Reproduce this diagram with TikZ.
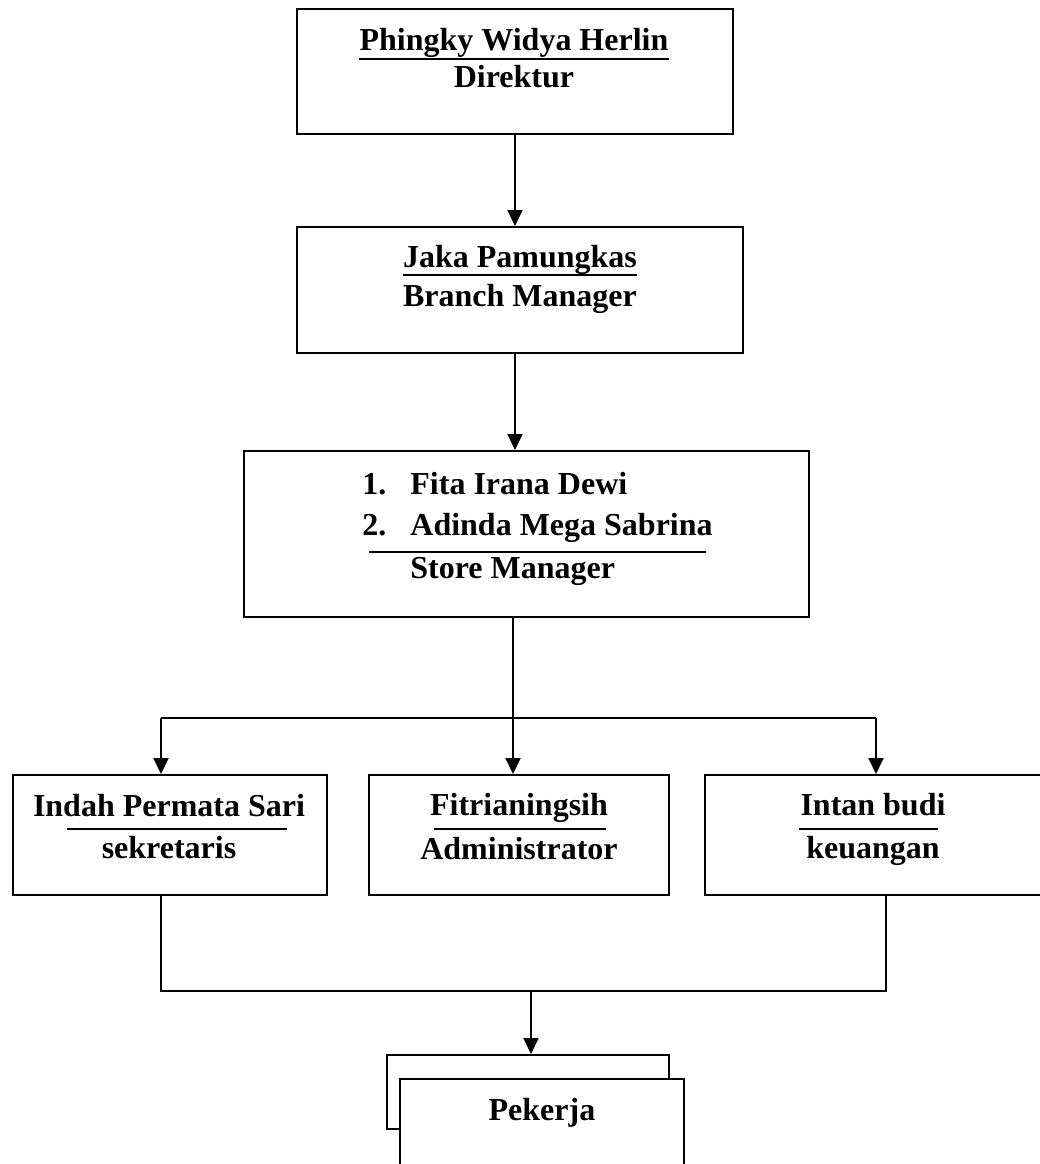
\documentclass[tikz,border=0pt]{standalone}
\usepackage{fontspec}
\setmainfont{Liberation Serif}
\usetikzlibrary{arrows.meta,fit,calc}
\begin{document}
\begin{tikzpicture}[x=0.5pt,y=-0.5pt,
  box/.style={draw, line width=1pt, inner sep=0pt},
  lbl/.style={font=\fontsize{16pt}{19pt}\selectfont\bfseries, anchor=base, inner sep=0pt},
  lblw/.style={lbl, anchor=base west},
  conn/.style={line width=1pt},
  arr/.style={conn, -{Triangle[length=8pt,width=7.5pt]}},
  rulel/.style={line width=0.8pt}]
\useasboundingbox (0,0) rectangle (1040,1164);

% boxes
\node[box, fit={(297,9) (733,134)}] (b1) {};
\node[box, fit={(297,227) (743,353)}] (b2) {};
\node[box, fit={(244,451) (809,617)}] (b3) {};
\node[box, fit={(13,775) (327,895)}] (b4) {};
\node[box, fit={(369,775) (669,895)}] (b5) {};
\node[box, fit={(705,775) (1052,895)}] (b6) {};
\node[box, fit={(387,1055) (669,1129)}] (p1) {};
\node[box, fill=white, fit={(400,1079) (684,1180)}] (p2) {};

% texts
\node[lbl] (t1a) at (514,50) {Phingky Widya Herlin};
\node[lbl] (t1b) at (514,87) {Direktur};
\draw[rulel] ($(t1a.base west)+(0,9)$) -- ($(t1a.base east)+(0,9)$);

\node[lbl] (t2a) at (520,267) {Jaka Pamungkas};
\node[lbl] (t2b) at (520,306) {Branch Manager};
\draw[rulel] ($(t2a.base west)+(0,8)$) -- ($(t2a.base east)+(0,8)$);

\node[lblw] (t3n1) at (362,494) {1.};
\node[lblw] (t3a) at (410,494) {Fita Irana Dewi};
\node[lblw] (t3n2) at (362,535) {2.};
\node[lblw] (t3b) at (410,535) {Adinda Mega Sabrina};
\node[lblw] (t3c) at (410,578) {Store Manager};
\draw[rulel] (369,552) -- (706,552);

\node[lbl] (t4a) at (169,816) {Indah Permata Sari};
\node[lbl] (t4b) at (169,858) {sekretaris};
\draw[rulel] (67,829) -- (287,829);

\node[lbl] (t5a) at (519,815) {Fitrianingsih};
\node[lbl] (t5b) at (519,859) {Administrator};
\draw[rulel] (434,829) -- (606,829);

\node[lbl] (t6a) at (873,815) {Intan budi};
\node[lbl] (t6b) at (873,858) {keuangan};
\draw[rulel] (799,829) -- (938,829);

\node[lbl] (t7) at (542,1120) {Pekerja};

% connectors
\coordinate (ax) at (515,0);
\draw[arr] (ax |- b1.south) -- (ax |- b2.north);
\draw[arr] (ax |- b2.south) -- (ax |- b3.north);

\coordinate (busL) at (161,718);
\coordinate (busM) at (513,718);
\coordinate (busR) at (876,718);
\draw[conn] (busM |- b3.south) -- (busM);
\draw[conn] (busL) -- (busR);
\draw[arr] (busL) -- (busL |- b4.north);
\draw[arr] (busM) -- (busM |- b5.north);
\draw[arr] (busR) -- (busR |- b6.north);

\coordinate (lowL) at (161,991);
\coordinate (lowM) at (531,991);
\coordinate (lowR) at (886,991);
\draw[conn] (lowL |- b4.south) -- (lowL) -- (lowR) -- (lowR |- b6.south);
\draw[arr] (lowM) -- (lowM |- p1.north);
\end{tikzpicture}
\end{document}
